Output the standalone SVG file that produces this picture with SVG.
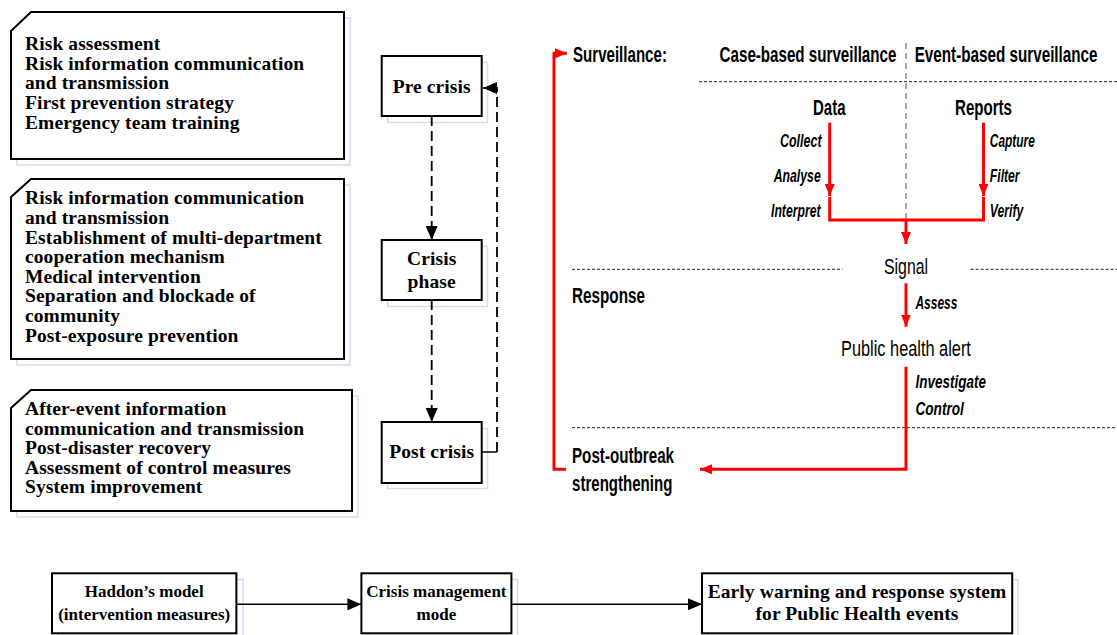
<svg xmlns="http://www.w3.org/2000/svg" width="1117" height="635" viewBox="0 0 1117 635">
<style>
.t{font-family:"Liberation Serif","Times New Roman",serif;font-weight:bold;font-size:19.5px;letter-spacing:0.1px;fill:#000}
.ts{font-size:17px;letter-spacing:0}
.c{text-anchor:middle}
.a{font-family:"Liberation Sans",Arial,sans-serif;font-weight:bold;font-size:22px;fill:#000}
.ai{font-style:italic;font-size:18.5px}
.ar{font-weight:normal}
.box{fill:#fff;stroke:#000;stroke-width:2}
.ghost{fill:none;stroke:#d3dcef;stroke-width:1.5}
.dash{fill:none;stroke:#000;stroke-width:1.8;stroke-dasharray:10 5}
.red{fill:none;stroke:#ff0000;stroke-width:3}
.hd{fill:none;stroke:#222;stroke-width:1;stroke-dasharray:3 2}
.vd{fill:none;stroke:#777;stroke-width:1.3;stroke-dasharray:6 4}
.ln{fill:none;stroke:#000;stroke-width:1.5}
</style>
<defs>
<marker id="ak" markerUnits="userSpaceOnUse" markerWidth="14" markerHeight="12" viewBox="0 0 14 12" refX="14" refY="6" orient="auto"><path d="M0,0 L14,6 L0,12 Z" fill="#000"/></marker>
<marker id="ar" markerUnits="userSpaceOnUse" markerWidth="12" markerHeight="10" viewBox="0 0 12 10" refX="12" refY="5" orient="auto"><path d="M0,0 L12,5 L0,10 Z" fill="#ff0000"/></marker>
</defs>

<!-- left boxes -->
<g id="box-pre">
<path class="ghost" d="M17,37 L37,18 H350 V165 H17 Z"/>
<path class="box" d="M11,31 L31,12 H344 V159 H11 Z"/>
<text class="t" x="25" y="50">Risk assessment</text>
<text class="t" x="25" y="70">Risk information communication</text>
<text class="t" x="25" y="89">and transmission</text>
<text class="t" x="25" y="109">First prevention strategy</text>
<text class="t" x="25" y="129">Emergency team training</text>
</g>
<g id="box-crisis">
<path class="ghost" d="M17,203 L37,185 H350 V365 H17 Z"/>
<path class="box" d="M11,197 L31,179 H344 V359 H11 Z"/>
<text class="t" x="25" y="204">Risk information communication</text>
<text class="t" x="25" y="224">and transmission</text>
<text class="t" x="25" y="244">Establishment of multi-department</text>
<text class="t" x="25" y="263">cooperation mechanism</text>
<text class="t" x="25" y="283">Medical intervention</text>
<text class="t" x="25" y="302">Separation and blockade of</text>
<text class="t" x="25" y="322">community</text>
<text class="t" x="25" y="342">Post-exposure prevention</text>
</g>
<g id="box-post">
<path class="ghost" d="M17,414 L37,396 H358 V517 H17 Z"/>
<path class="box" d="M11,408 L31,390 H352 V511 H11 Z"/>
<text class="t" x="25" y="415">After-event information</text>
<text class="t" x="25" y="435">communication and transmission</text>
<text class="t" x="25" y="454">Post-disaster recovery</text>
<text class="t" x="25" y="474">Assessment of control measures</text>
<text class="t" x="25" y="493">System improvement</text>
</g>

<!-- middle phases -->
<g id="phase-pre">
<rect class="ghost" x="387.5" y="62.5" width="100" height="60"/>
<rect class="box" x="381.7" y="56" width="100" height="60"/>
<text class="t c" x="431.7" y="93">Pre crisis</text>
</g>
<g id="phase-crisis">
<rect class="ghost" x="387.5" y="246.5" width="100" height="60"/>
<rect class="box" x="381.7" y="240" width="100" height="60"/>
<text class="t c" x="431.7" y="265">Crisis</text>
<text class="t c" x="431.7" y="288">phase</text>
</g>
<g id="phase-post">
<rect class="ghost" x="387.5" y="428.5" width="100" height="60"/>
<rect class="box" x="381.7" y="422" width="100" height="61"/>
<text class="t c" x="431.7" y="458">Post crisis</text>
</g>

<!-- bottom boxes -->
<g id="haddon">
<rect class="ghost" x="58" y="579.5" width="185" height="60"/>
<rect class="box" x="52" y="573.3" width="184.4" height="60"/>
<text class="t ts c" x="144.2" y="597">Haddon’s model</text>
<text class="t ts c" x="144.2" y="620">(intervention measures)</text>
</g>
<g id="crisis-mode">
<rect class="ghost" x="367.5" y="579.5" width="150" height="60"/>
<rect class="box" x="361.4" y="573.3" width="150" height="60"/>
<text class="t ts c" x="436.4" y="597">Crisis management</text>
<text class="t ts c" x="436.4" y="620">mode</text>
</g>
<g id="early-warning">
<rect class="ghost" x="708" y="579.5" width="310" height="60"/>
<rect class="box" x="702" y="573.3" width="310.2" height="60"/>
<text class="t c" x="857" y="597.5">Early warning and response system</text>
<text class="t c" x="857" y="619.5">for Public Health events</text>
</g>

<!-- right section texts -->
<g id="surveillance-labels">
<text class="a" transform="translate(573,61.7) scale(0.686,1)">Surveillance:</text>
<text class="a" transform="translate(719.6,62) scale(0.689,1)">Case-based surveillance</text>
<text class="a" transform="translate(914.7,62) scale(0.693,1)">Event-based surveillance</text>
<text class="a" transform="translate(813,115) scale(0.681,1)">Data</text>
<text class="a" transform="translate(955,115) scale(0.686,1)">Reports</text>
<text class="a ai" transform="translate(780,146.7) scale(0.674,1)">Collect</text>
<text class="a ai" transform="translate(773.7,182) scale(0.663,1)">Analyse</text>
<text class="a ai" transform="translate(771,217) scale(0.66,1)">Interpret</text>
<text class="a ai" transform="translate(989.8,146.7) scale(0.644,1)">Capture</text>
<text class="a ai" transform="translate(989.8,182) scale(0.66,1)">Filter</text>
<text class="a ai" transform="translate(989.8,217) scale(0.66,1)">Verify</text>
</g>
<g id="response-labels">
<text class="a ar" transform="translate(884,274) scale(0.72,1)">Signal</text>
<text class="a" transform="translate(572,303.3) scale(0.694,1)">Response</text>
<text class="a ai" transform="translate(915.4,309) scale(0.648,1)">Assess</text>
<text class="a ar" transform="translate(841,356) scale(0.743,1)">Public health alert</text>
<text class="a ai" transform="translate(915.4,388.3) scale(0.73,1)">Investigate</text>
<text class="a ai" transform="translate(915.4,415) scale(0.738,1)">Control</text>
<text class="a" transform="translate(572,463.3) scale(0.69,1)">Post-outbreak</text>
<text class="a" transform="translate(572,491) scale(0.685,1)">strengthening</text>
</g>

<!-- connectors -->
<g id="connectors">
<path class="dash" d="M431.7,116 V240" marker-end="url(#ak)"/>
<path class="dash" d="M431.7,300 V422" marker-end="url(#ak)"/>
<path class="ln" d="M482,452 H497"/>
<path class="dash" d="M497,452 V88 H483" marker-end="url(#ak)"/>
<path class="ln" d="M236.4,604.3 H361.4" marker-end="url(#ak)"/>
<path class="ln" d="M511.4,604.3 H702" marker-end="url(#ak)"/>
<path class="hd" d="M699,81.7 H1117"/>
<path class="hd" d="M572,269.3 H842.5 M970.6,269.3 H1117"/>
<path class="hd" d="M572,427.7 H1117"/>
<path class="vd" d="M906,43 V220"/>
<path class="red" d="M829.7,122.7 V196" marker-end="url(#ar)"/>
<path class="red" d="M983.5,122.7 V196" marker-end="url(#ar)"/>
<path class="red" d="M829.7,197 V220 H983.5 V197"/>
<path class="red" d="M906,220 V244" marker-end="url(#ar)"/>
<path class="red" d="M906,283.3 V326.7" marker-end="url(#ar)"/>
<path class="red" d="M906,366.7 V469.3 H700" marker-end="url(#ar)"/>
<path class="red" d="M566,469.3 H554 V53.3 H567" marker-end="url(#ar)"/>
</g>
</svg>
